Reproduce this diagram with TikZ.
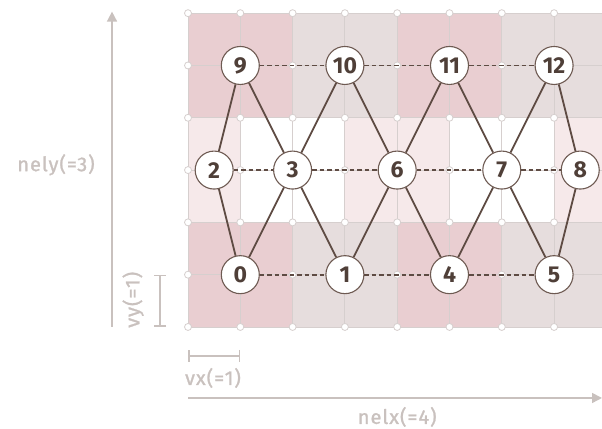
\documentclass[tikz,border=0pt]{standalone}
\usepackage{fontspec}
\setmainfont{Fira Sans}
\newfontfamily\labelfont[LetterSpace=5, FakeBold=1.2]{Fira Sans}
\usetikzlibrary{arrows.meta}
\definecolor{cellpink}{HTML}{E9CED1}
\definecolor{cellgray}{HTML}{E6DDDD}
\definecolor{celllight}{HTML}{F6E9EA}
\definecolor{gridline}{HTML}{D6CFCE}
\definecolor{nodeline}{HTML}{6E5A52}
\definecolor{nodetext}{HTML}{4F3F38}
\definecolor{edgecol}{HTML}{5E4B43}
\definecolor{dimcol}{HTML}{C9C1BE}
\tikzset{
  mnode/.style={circle, draw=nodeline, line width=1.1pt, fill=white,
    minimum size=38pt, inner sep=0pt, text=nodetext,
    font=\bfseries\fontsize{23}{24}\selectfont},
  solidedge/.style={draw=edgecol, line width=1.8pt},
  dashededge/.style={draw=edgecol, line width=1.8pt, dash pattern=on 4.5pt off 3pt},
  vdot/.style={circle, draw=gridline, fill=white, line width=0.8pt,
    minimum size=7pt, inner sep=0pt},
  gridstroke/.style={draw=gridline, line width=0.9pt},
  dimline/.style={draw=dimcol, line width=1.6pt},
  dimtext/.style={text=dimcol, font=\labelfont\fontsize{20}{22}\selectfont}
}
\begin{document}
\begin{tikzpicture}[x=52.3pt, y=52.3pt]
\useasboundingbox (-3.595,-1.950) rectangle (7.916,6.252);
\begin{scope}
\clip (-3.595,-1.950) rectangle (7.916,6.252);
% element background: top and bottom bands
\foreach \yb in {0,4}{
  \fill[cellpink] (0,\yb) rectangle (2,\yb+2);
  \fill[cellgray] (2,\yb) rectangle (4,\yb+2);
  \fill[cellpink] (4,\yb) rectangle (6,\yb+2);
  \fill[cellgray] (6,\yb) rectangle (8,\yb+2);
}
% element background: staggered middle band
\fill[celllight] (0,2) rectangle (1,4);
\fill[white]     (1,2) rectangle (3,4);
\fill[celllight] (3,2) rectangle (5,4);
\fill[white]     (5,2) rectangle (7,4);
\fill[celllight] (7,2) rectangle (8,4);
% grid lines, one per unit
\foreach \i in {0,...,8}{ \draw[gridstroke] (\i,0) -- (\i,6); }
\foreach \j in {0,...,6}{ \draw[gridstroke] (0,\j) -- (8,\j); }
\foreach \i in {0,...,8}{
  \foreach \j in {0,...,6}{
    \node[vdot] (g\i-\j) at (\i,\j) {};
  }
}
% mesh nodes
\node[mnode] (n0)  at (1,1)   {0};
\node[mnode] (n1)  at (3,1)   {1};
\node[mnode] (n4)  at (5,1)   {4};
\node[mnode] (n5)  at (7,1)   {5};
\node[mnode] (n2)  at (0.5,3) {2};
\node[mnode] (n3)  at (2,3)   {3};
\node[mnode] (n6)  at (4,3)   {6};
\node[mnode] (n7)  at (6,3)   {7};
\node[mnode] (n8)  at (7.5,3) {8};
\node[mnode] (n9)  at (1,5)   {9};
\node[mnode] (n10) at (3,5)   {10};
\node[mnode] (n11) at (5,5)   {11};
\node[mnode] (n12) at (7,5)   {12};
% connectors
\foreach \a/\b in {9/2,9/3,10/3,10/6,11/6,11/7,12/7,12/8,
                   0/2,0/3,1/3,1/6,4/6,4/7,5/7,5/8}{
  \draw[solidedge] (n\a) -- (n\b);
}
\foreach \a/\b in {9/10,10/11,11/12,2/3,3/6,6/7,7/8,0/1,1/4,4/5}{
  \draw[dashededge] (n\a) -- (n\b);
}
% dimension arrows and labels
\coordinate (ybot) at (-1.453,0);
\coordinate (ytop) at (-1.453,6.03);
\draw[dimline, -{Triangle[width=10pt,length=10pt]}] (ybot) -- (ytop);
\node[dimtext] (nely) at (-2.524,3.1) {nely(=3)};
\coordinate (xl) at (0,-1.358);
\coordinate (xr) at (7.916,-1.358);
\draw[dimline, -{Triangle[width=10pt,length=10pt]}] (xl) -- (xr);
\node[dimtext] (nelx) at (4.0,-1.72) {nelx(=4)};
\coordinate (vyb) at (-0.535,0);
\coordinate (vyt) at (-0.535,1);
\draw[dimline, {Bar[width=12pt]}-{Bar[width=12pt]}] (vyb) -- (vyt);
\node[dimtext, rotate=90] (vy) at (-1.05,0.52) {vy(=1)};
\coordinate (vxl) at (0,-0.554);
\coordinate (vxr) at (1,-0.554);
\draw[dimline, {Bar[width=12pt]}-{Bar[width=12pt]}] (vxl) -- (vxr);
\node[dimtext] (vx) at (0.478,-0.975) {vx(=1)};
\end{scope}
\end{tikzpicture}
\end{document}
